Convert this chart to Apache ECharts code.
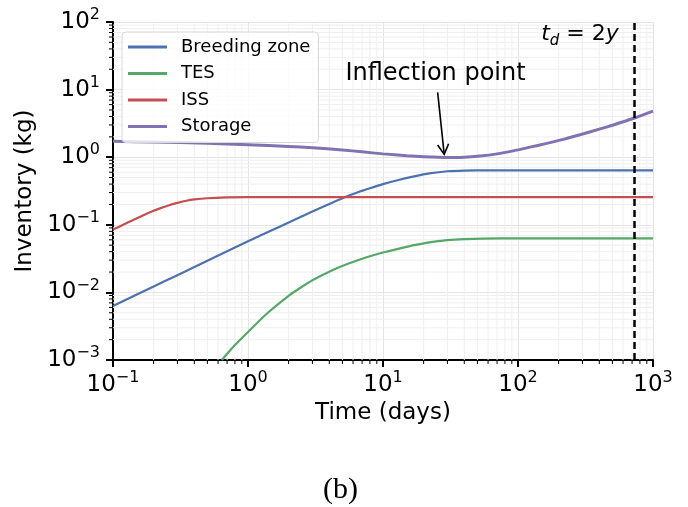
<!DOCTYPE html>
<html>
<head>
<meta charset="utf-8">
<script src="https://cdn.jsdelivr.net/npm/echarts@6/dist/echarts.min.js"></script>
<style>
html,body{margin:0;padding:0;background:#fff;}
#chart{width:688px;height:507px;}
</style>
</head>
<body>
<div id="chart"></div>
<script>
// ---- data ----
const seriesNames = ['Breeding zone', 'TES', 'ISS', 'Storage'];
const seriesColors = ['#4C72B0', '#55A868', '#C44E52', '#8172B2'];

const breedingT = [0.1, 0.2, 0.3, 0.5, 0.7, 1, 1.5, 2, 3, 4, 5, 6, 7, 8, 10, 13, 17, 22, 30, 40, 60, 100, 300, 1000];
const breedingV = [0.0063, 0.0122, 0.018, 0.0294, 0.0405, 0.057, 0.083, 0.108, 0.157, 0.203, 0.247, 0.285, 0.318, 0.348, 0.40, 0.46, 0.52, 0.575, 0.62, 0.635, 0.64, 0.64, 0.64, 0.64];

const tesT = [0.64, 0.8, 1, 1.37, 2, 2.43, 3, 4.29, 5.5, 7.57, 10, 13.4, 17, 22, 30, 40, 55, 100, 300, 1000];
const tesV = [0.001, 0.00166, 0.0026, 0.0048, 0.0089, 0.0116, 0.0151, 0.0216, 0.0265, 0.0331, 0.039, 0.0448, 0.050, 0.055, 0.0593, 0.0615, 0.0626, 0.063, 0.063, 0.063];

const issT = [0.1, 0.12, 0.14, 0.168, 0.2, 0.223, 0.26, 0.3, 0.35, 0.4, 0.5, 0.7, 1, 2, 10, 100, 1000];
const issV = [0.085, 0.101, 0.117, 0.139, 0.161, 0.175, 0.195, 0.211, 0.227, 0.237, 0.247, 0.254, 0.257, 0.257, 0.257, 0.257, 0.257];

const storageT = [0.1, 0.2, 0.5, 1, 2, 3, 5, 7, 10, 15, 20, 30, 40, 52, 70, 92, 125, 163, 220, 288, 400, 508, 730, 1000];
const storageV = [1.72, 1.68, 1.61, 1.53, 1.44, 1.38, 1.28, 1.20, 1.12, 1.05, 1.015, 0.99, 1.0, 1.04, 1.12, 1.24, 1.42, 1.6, 1.85, 2.15, 2.6, 3.0, 3.8, 4.8];

// axes ranges & ticks
const X_MIN = 0.1, X_MAX = 1000;
const Y_MIN = 0.001, Y_MAX = 100;
const xDecades = [0.1, 1, 10, 100];
const yDecades = [0.001, 0.01, 0.1, 1, 10];
const minorMultipliers = [2, 3, 4, 5, 6, 7, 8, 9];

// annotations
const deadlineT = 730;               // t_d = 2 years
const arrowFrom = [25.4, 9.1];
const arrowTo = [28.4, 1.1];
const inflectionLabelAt = [24.5, 17.3];
const tdLabelAt = [288, 66];

// ---- build ----
const pairs = (t, v) => t.map((x, i) => [x, v[i]]);
const xMinor = [];
xDecades.forEach(d => minorMultipliers.forEach(m => xMinor.push([d * m, 1])));
const yMinor = [];
yDecades.forEach(d => minorMultipliers.forEach(m => yMinor.push([1, d * m])));

const FONT = 'DejaVu Sans';
const sup = e => (e < 0 ? '\u2212' + (-e) : '' + e);
const logLabel = v => '{m|10}{s|' + sup(Math.round(Math.log10(v))) + '}';
const labelRich = {
  m: { fontSize: 23, fontFamily: FONT, color: '#000', lineHeight: 30, verticalAlign: 'middle' },
  s: { fontSize: 16, fontFamily: FONT, color: '#000', lineHeight: 16, verticalAlign: 'top' }
};

function minorRender(isX) {
  return function (params, api) {
    let a, b, t2;
    if (isX) {
      const v = api.value(0);
      a = api.coord([v, Y_MIN]); b = api.coord([v, Y_MAX]);
      t2 = [a[0], a[1] + 4];
    } else {
      const v = api.value(1);
      a = api.coord([X_MIN, v]); b = api.coord([X_MAX, v]);
      t2 = [a[0] - 4, a[1]];
    }
    return {
      type: 'group',
      children: [
        { type: 'line', shape: { x1: a[0], y1: a[1], x2: b[0], y2: b[1] }, style: { stroke: '#efefef', lineWidth: 1 } },
        { type: 'line', shape: { x1: a[0], y1: a[1], x2: t2[0], y2: t2[1] }, style: { stroke: '#000', lineWidth: 1 } }
      ]
    };
  };
}

function arrowRender(params, api) {
  const a = api.coord([api.value(0), api.value(1)]);
  const b = api.coord([api.value(2), api.value(3)]);
  const ang = Math.atan2(b[1] - a[1], b[0] - a[0]);
  const L = 11.5, h = 0.5;
  const w1 = [b[0] - L * Math.cos(ang - h), b[1] - L * Math.sin(ang - h)];
  const w2 = [b[0] - L * Math.cos(ang + h), b[1] - L * Math.sin(ang + h)];
  return {
    type: 'group',
    children: [
      { type: 'line', shape: { x1: a[0], y1: a[1], x2: b[0], y2: b[1] }, style: { stroke: '#000', lineWidth: 1.6 } },
      { type: 'polyline', shape: { points: [w1, b, w2] }, style: { stroke: '#000', lineWidth: 1.6, fill: null } }
    ]
  };
}

const lineSeries = [
  { t: breedingT, v: breedingV, w: 2.2 },
  { t: tesT, v: tesV, w: 2.2 },
  { t: issT, v: issV, w: 2.2 },
  { t: storageT, v: storageV, w: 3 }
].map((s, i) => ({
  name: seriesNames[i],
  type: 'line',
  data: pairs(s.t, s.v),
  showSymbol: false,
  symbol: 'none',
  smooth: 0.2,
  color: seriesColors[i],
  lineStyle: { width: s.w, color: seriesColors[i] },
  z: 3,
  silent: true
}));

lineSeries[3].markLine = {
  silent: true,
  animation: false,
  symbol: ['none', 'none'],
  label: { show: false },
  data: [
    { xAxis: deadlineT, lineStyle: { color: '#000', width: 2.5, type: [7, 4] } }
  ]
};
lineSeries[1].markPoint = {
  silent: true,
  animation: false,
  symbol: 'circle',
  symbolSize: 1,
  itemStyle: { color: 'rgba(0,0,0,0)' },
  data: [
    {
      coord: inflectionLabelAt,
      label: { show: true, position: 'inside', formatter: 'Inflection point', color: '#000', fontSize: 24, fontFamily: FONT }
    },
    {
      coord: tdLabelAt,
      label: {
        show: true, position: 'inside',
        formatter: '{i|t}{d|d}{n| = 2}{i|y}',
        rich: {
          i: { fontSize: 22, fontStyle: 'italic', fontFamily: FONT, color: '#000', lineHeight: 28, verticalAlign: 'middle' },
          n: { fontSize: 22, fontFamily: FONT, color: '#000', lineHeight: 28, verticalAlign: 'middle' },
          d: { fontSize: 15, fontStyle: 'italic', fontFamily: FONT, color: '#000', lineHeight: 15, verticalAlign: 'bottom' }
        }
      }
    }
  ]
};

const option = {
  animation: false,
  backgroundColor: '#fff',
  textStyle: { fontFamily: FONT },
  title: {
    text: '(b)',
    left: 318,
    top: 470,
    textStyle: { fontFamily: 'Liberation Serif', fontSize: 30, fontWeight: 'normal', color: '#000' }
  },
  grid: { left: 113, right: 35, top: 22, bottom: 147, containLabel: false },
  legend: {
    data: seriesNames,
    orient: 'vertical',
    left: 122,
    top: 32,
    icon: 'rect',
    itemWidth: 39,
    itemHeight: 3,
    itemGap: 6.5,
    padding: [5, 8, 6, 6],
    borderColor: '#d8d8d8',
    borderWidth: 1,
    borderRadius: 4,
    backgroundColor: 'rgba(255,255,255,0.8)',
    textStyle: { fontFamily: FONT, fontSize: 18, color: '#000', lineHeight: 20, padding: [0, 0, 0, 9] },
    selectedMode: false,
    z: 10
  },
  xAxis: {
    type: 'log',
    logBase: 10,
    min: X_MIN,
    max: X_MAX,
    name: 'Time (days)',
    nameLocation: 'middle',
    nameGap: 41,
    nameTextStyle: { fontFamily: FONT, fontSize: 23, color: '#000' },
    axisLine: { show: true, lineStyle: { color: '#000', width: 2 } },
    axisTick: { show: true, inside: false, length: 7, lineStyle: { color: '#000', width: 2 } },
    axisLabel: { margin: 10, formatter: logLabel, rich: labelRich, showMinLabel: true, showMaxLabel: true },
    splitLine: { show: true, lineStyle: { color: '#e4e4e4', width: 1 } },
    minorTick: { show: false },
    minorSplitLine: { show: false }
  },
  yAxis: {
    type: 'log',
    logBase: 10,
    min: Y_MIN,
    max: Y_MAX,
    name: 'Inventory (kg)',
    nameLocation: 'middle',
    nameGap: 76,
    nameRotate: 90,
    nameTextStyle: { fontFamily: FONT, fontSize: 23, color: '#000' },
    axisLine: { show: true, lineStyle: { color: '#000', width: 2 } },
    axisTick: { show: true, inside: false, length: 7, lineStyle: { color: '#000', width: 2 } },
    axisLabel: { margin: 13, formatter: logLabel, rich: labelRich, showMinLabel: true, showMaxLabel: true },
    splitLine: { show: true, lineStyle: { color: '#e4e4e4', width: 1 } },
    minorTick: { show: false },
    minorSplitLine: { show: false }
  },
  series: [
    {
      type: 'custom', name: 'xminor', coordinateSystem: 'cartesian2d', silent: true, clip: false, z: 1,
      renderItem: minorRender(true), data: xMinor
    },
    {
      type: 'custom', name: 'yminor', coordinateSystem: 'cartesian2d', silent: true, clip: false, z: 1,
      renderItem: minorRender(false), data: yMinor
    },
    {
      type: 'custom', name: 'arrow', coordinateSystem: 'cartesian2d', silent: true, clip: false, z: 5,
      encode: { x: [0, 2], y: [1, 3] },
      renderItem: arrowRender, data: [[arrowFrom[0], arrowFrom[1], arrowTo[0], arrowTo[1]]]
    }
  ].concat(lineSeries)
};

const chart = echarts.init(document.getElementById('chart'), null, { renderer: 'canvas' });
chart.setOption(option);
</script>
</body>
</html>
